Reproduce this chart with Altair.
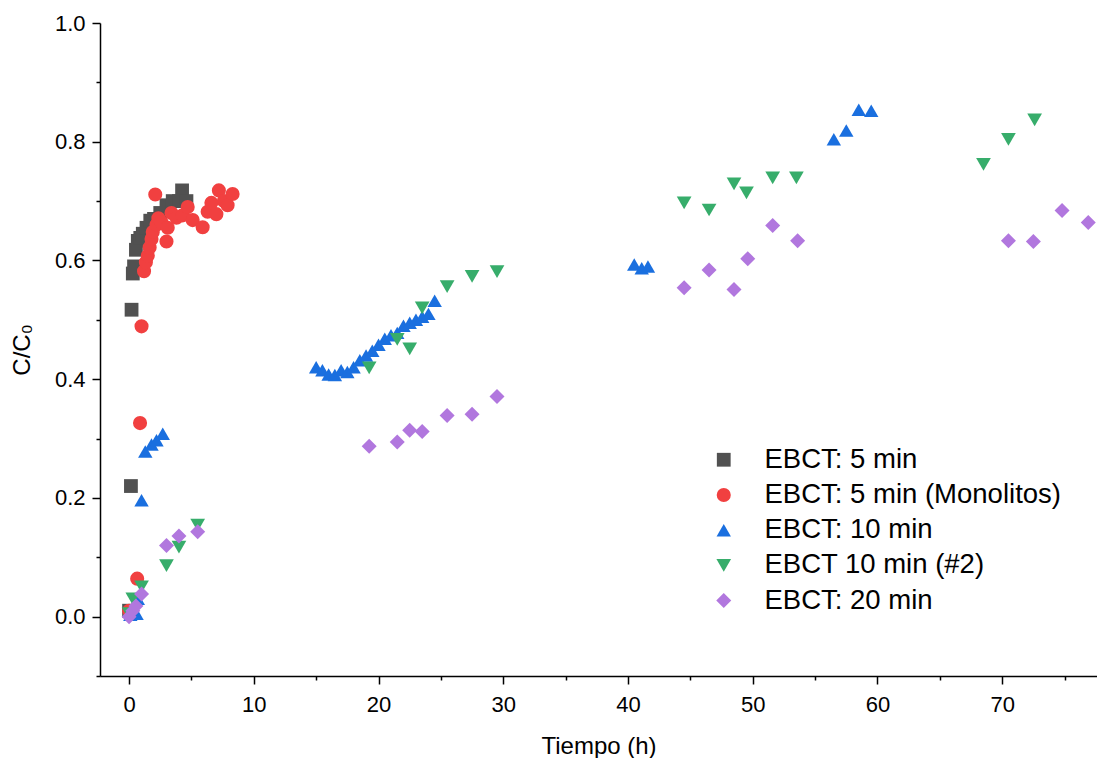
import altair as alt
import pandas as pd

series_names = ["EBCT: 5 min", "EBCT: 5 min (Monolitos)", "EBCT: 10 min",
                "EBCT 10 min (#2)", "EBCT: 20 min"]
colors = ["#515151", "#F14040", "#1A6FDF", "#37AD6B", "#B177DE"]
shapes = ["square", "circle", "triangle-up", "triangle-down", "diamond"]
sizes = [190, 225, 270, 270, 360]

# EBCT: 5 min
t_5 = [0.0, 0.15, 0.2, 0.3, 0.4, 0.55, 0.7, 0.9, 1.1, 1.4, 1.7, 2.0, 2.5, 3.0, 3.5, 4.0, 4.25, 4.6]
c_5 = [0.01, 0.22, 0.517, 0.578, 0.59, 0.618, 0.633, 0.638, 0.645, 0.655, 0.667, 0.67, 0.68,
       0.693, 0.70, 0.70, 0.718, 0.70]

# EBCT: 5 min (Monolitos)
t_5m = [0.0, 0.65, 0.88, 1.0, 1.2, 1.35, 1.5, 1.65, 1.8, 1.9, 2.1, 2.2, 2.35, 2.6, 3.0, 3.1,
        3.4, 3.8, 4.3, 4.7, 5.1, 5.9, 6.3, 6.6, 7.0, 7.2, 7.6, 7.9, 8.3]
c_5m = [0.01, 0.064, 0.326, 0.489, 0.582, 0.597, 0.608, 0.622, 0.636, 0.648, 0.711, 0.66,
        0.671, 0.664, 0.632, 0.655, 0.68, 0.672, 0.676, 0.69, 0.668, 0.656, 0.682, 0.697,
        0.678, 0.718, 0.70, 0.693, 0.712]

# EBCT: 10 min
t_10 = [0.1, 0.6, 0.7, 1.0, 1.3, 1.8, 2.2, 2.7, 15.0, 15.5, 16.0, 16.5, 17.0, 17.5, 18.0,
        18.5, 19.0, 19.5, 20.0, 20.5, 21.0, 21.5, 22.0, 22.5, 23.0, 23.5, 24.0, 24.5,
        40.5, 41.1, 41.6, 56.5, 57.5, 58.5, 59.5]
c_10 = [0.003, 0.005, 0.03, 0.196, 0.278, 0.29, 0.297, 0.308, 0.420, 0.415, 0.408, 0.407,
        0.415, 0.412, 0.420, 0.432, 0.440, 0.448, 0.458, 0.468, 0.474, 0.478, 0.490, 0.495,
        0.500, 0.505, 0.510, 0.532, 0.593, 0.587, 0.590, 0.804, 0.819, 0.854, 0.852]

# EBCT 10 min (#2)
t_10b = [0.0, 0.3, 1.0, 3.0, 4.0, 5.5, 19.25, 21.5, 22.5, 23.5, 25.5, 27.5, 29.5, 44.5, 46.5,
         48.5, 49.5, 51.6, 53.5, 68.5, 70.5, 72.6]
c_10b = [0.005, 0.03, 0.05, 0.086, 0.117, 0.154, 0.419, 0.467, 0.451, 0.520, 0.556, 0.573,
         0.581, 0.697, 0.685, 0.729, 0.714, 0.739, 0.739, 0.762, 0.804, 0.837]

# EBCT: 20 min
t_20 = [0.0, 0.3, 0.55, 1.0, 3.0, 4.0, 5.5, 19.25, 21.5, 22.5, 23.5, 25.5, 27.5, 29.5, 44.5,
        46.5, 48.5, 49.6, 51.6, 53.6, 70.5, 72.5, 74.8, 76.9]
c_20 = [0.0, 0.01, 0.018, 0.038, 0.12, 0.136, 0.143, 0.287, 0.294, 0.314, 0.312, 0.339, 0.341,
        0.371, 0.554, 0.584, 0.551, 0.603, 0.659, 0.633, 0.633, 0.632, 0.684, 0.664]

x_ticks = [0, 5, 10, 15, 20, 25, 30, 35, 40, 45, 50, 55, 60, 65, 70, 75]
y_ticks = [-0.1, 0.0, 0.1, 0.2, 0.3, 0.4, 0.5, 0.6, 0.7, 0.8, 0.9, 1.0]

rows = []
for name, ts, cs in zip(series_names, [t_5, t_5m, t_10, t_10b, t_20],
                        [c_5, c_5m, c_10, c_10b, c_20]):
    for t, c in zip(ts, cs):
        rows.append({"series": name, "t": t, "c": c})
df = pd.DataFrame(rows)

FONT = "Liberation Sans"

legend = alt.Legend(title=None, orient="none", legendX=610, legendY=423,
                    labelFontSize=27.5, labelFont=FONT, labelColor="black", labelLimit=0,
                    labelOffset=27, rowPadding=6.2, padding=0, symbolStrokeWidth=0)

x_axis = alt.Axis(values=x_ticks, labelExpr="datum.value % 10 === 0 ? datum.label : ''",
                  tickSize={"condition": {"test": "datum.value % 10 === 0", "value": 8}, "value": 4},
                  grid=False, domainColor="black", domainWidth=1.5, tickColor="black",
                  tickWidth=1.5, labelFont=FONT, labelFontSize=22, labelColor="black",
                  labelPadding=10, labelOverlap=False, labelFlush=False, labelBound=False,
                  titleFont=FONT, titleFontSize=24, titleFontWeight="normal",
                  titleColor="black", titlePadding=19)

y_axis = alt.Axis(values=y_ticks, format=".1f",
                  labelExpr="abs(round(datum.value * 10)) % 2 === 0 ? datum.label : ''",
                  tickSize={"condition": {"test": "abs(round(datum.value * 10)) % 2 === 0",
                                          "value": 8}, "value": 4},
                  grid=False, domainColor="black", domainWidth=1.5, tickColor="black",
                  tickWidth=1.5, labelFont=FONT, labelFontSize=22, labelColor="black",
                  labelPadding=7, labelOverlap=False, labelFlush=False, labelBound=False,
                  titleFont=FONT, titleFontSize=24, titleFontWeight="normal",
                  titleColor="black", titlePadding=20)

chart = alt.Chart(df).mark_point(filled=True, opacity=1, strokeWidth=0).encode(
    x=alt.X("t:Q", title="Tiempo (h)",
            scale=alt.Scale(domain=[-2.33, 77.6], nice=False, zero=False), axis=x_axis),
    y=alt.Y("c:Q", title="C/C₀",
            scale=alt.Scale(domain=[-0.1, 1.0], nice=False, zero=False), axis=y_axis),
    color=alt.Color("series:N", scale=alt.Scale(domain=series_names, range=colors),
                    legend=legend),
    shape=alt.Shape("series:N", scale=alt.Scale(domain=series_names, range=shapes),
                    legend=legend),
    size=alt.Size("series:N", scale=alt.Scale(domain=series_names, range=sizes),
                  legend=legend),
).properties(
    width=997, height=653,
    padding={"left": 92, "top": 15, "right": 0, "bottom": 82},
    autosize=alt.AutoSizeParams(type="none"),
).configure_view(stroke=None)

chart.save("out.html", embed_options={"renderer": "svg", "actions": False})
